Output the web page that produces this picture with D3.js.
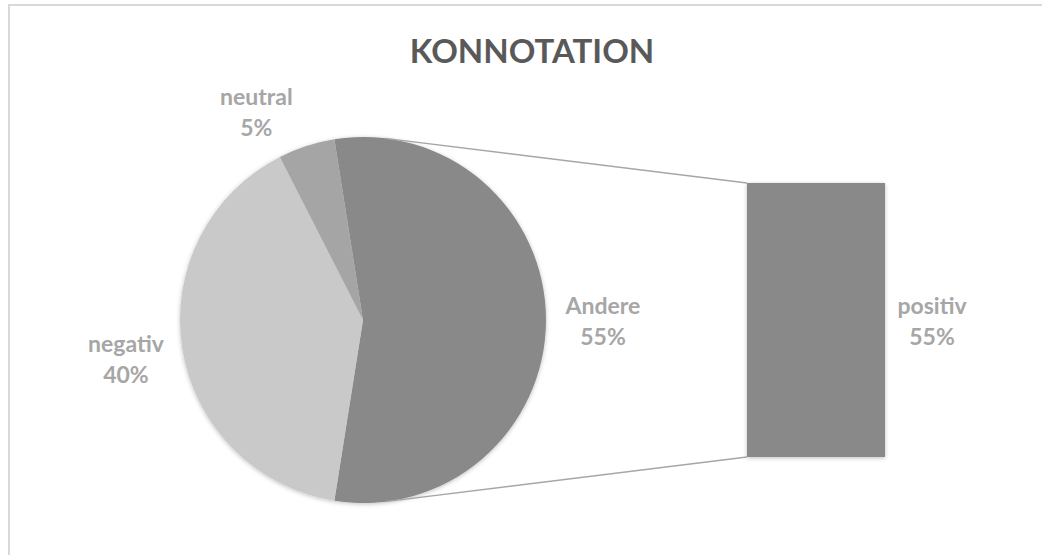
<!DOCTYPE html>
<html>
<head>
<meta charset="utf-8">
<script src="https://cdn.jsdelivr.net/npm/d3@7"></script>
<style>
  body { margin: 0; background: #fff; }
  svg { display: block; font-family: Lato, "Open Sans", sans-serif; }
</style>
</head>
<body>
<svg id="svg" width="1042" height="555"></svg>
<script>
// Werte aus dem Bild
var pieLabels = ["Andere", "negativ", "neutral"]
var pieValues = [55, 40, 5]
var pieColors = ["#898989", "#c9c9c9", "#a5a5a5"]
var barLabels = ["positiv"]
var barValues = [55]
var title = "KONNOTATION"

var svg = d3.select("svg"),
    width = 1042,
    height = 555

var cx = 363, cy = 320, r = 183

// Schatten wie in Excel
var defs = svg.append("defs")
var f = defs.append("filter").attr("id", "shadow")
  .attr("x", "-10%").attr("y", "-10%").attr("width", "120%").attr("height", "120%")
f.append("feDropShadow").attr("dx", 0).attr("dy", 1)
  .attr("stdDeviation", 2).attr("flood-color", "#000").attr("flood-opacity", 0.25)

// Rahmen
svg.append("rect")
  .attr("x", 9).attr("y", 5)
  .attr("width", width + 20).attr("height", height + 20)
  .attr("fill", "none").attr("stroke", "#d9d9d9").attr("stroke-width", 2)

svg.append("text")
  .attr("x", 532).attr("y", 63)
  .attr("text-anchor", "middle")
  .attr("font-size", 33).attr("font-weight", "bold")
  .attr("fill", "#595959")
  .text(title)

// Kreis: "Andere" wird rechts zentriert
var share = pieValues[0] / d3.sum(pieValues)
var pie = d3.pie().sort(null)
  .startAngle(Math.PI / 2 - share * Math.PI)
  .endAngle(Math.PI / 2 - share * Math.PI + 2 * Math.PI)
var arcs = pie(pieValues)
var arc = d3.arc().innerRadius(0).outerRadius(r)

var g = svg.append("g").attr("transform", "translate(" + cx + "," + cy + ")")
g.append("g").attr("filter", "url(#shadow)")
  .selectAll("path")
  .data(arcs)
  .enter().append("path")
  .attr("d", arc)
  .attr("fill", function(d, i) { return pieColors[i] })

// Balken
var y = d3.scaleLinear().domain([0, d3.sum(barValues)]).range([457, 183])
var x = d3.scaleBand().domain(barLabels).range([747, 885]).padding(0)

svg.append("g").attr("filter", "url(#shadow)")
  .selectAll("rect")
  .data(barValues)
  .enter().append("rect")
  .attr("x", function(d, i) { return x(barLabels[i]) })
  .attr("y", function(d) { return y(d) })
  .attr("width", x.bandwidth())
  .attr("height", function(d) { return y(0) - y(d) })
  .attr("fill", pieColors[0])

// Verbindungslinien als Tangenten an den Kreis
function tangent(px, py, side) {
  var dx = px - cx, dy = py - cy
  var d = Math.sqrt(dx * dx + dy * dy)
  var a = Math.atan2(dy, dx)
  var b = Math.acos(r / d)
  var t = a + side * b
  return [cx + r * Math.cos(t), cy + r * Math.sin(t)]
}
var x0 = x(barLabels[0])
var top0 = y(barValues[0]), bot0 = y(0)
var t1 = tangent(x0, top0, -1)
var t2 = tangent(x0, bot0, 1)
svg.append("g").selectAll("line")
  .data([[t1, [x0, top0]], [t2, [x0, bot0]]])
  .enter().append("line")
  .attr("x1", function(d) { return d[0][0] })
  .attr("y1", function(d) { return d[0][1] })
  .attr("x2", function(d) { return d[1][0] })
  .attr("y2", function(d) { return d[1][1] })
  .attr("stroke", "#a6a6a6").attr("stroke-width", 1.5)

// Beschriftungen
var labelShift = [0, 0, -9]   // Grad, neutral etwas nach links
var labelRadius = [240, 240, 235]
function addLabel(px, py, name, pct) {
  var t = svg.append("text")
    .attr("text-anchor", "middle")
    .attr("font-size", 23).attr("font-weight", "bold")
    .attr("fill", "#a6a6a6")
  t.append("tspan").attr("x", px).attr("y", py - 6).text(name)
  t.append("tspan").attr("x", px).attr("y", py + 25).text(pct)
}
arcs.forEach(function(d, i) {
  var m = (d.startAngle + d.endAngle) / 2 + labelShift[i] * Math.PI / 180
  var px = cx + labelRadius[i] * Math.sin(m)
  var py = cy - labelRadius[i] * Math.cos(m)
  addLabel(px, py, pieLabels[i], d3.format(".0%")(d.value / d3.sum(pieValues)))
})
barValues.forEach(function(v, i) {
  addLabel(x(barLabels[i]) + x.bandwidth() + 47, (y(v) + y(0)) / 2 + 0, barLabels[i],
    d3.format(".0%")(v / d3.sum(pieValues)))
})
</script>
</body>
</html>
